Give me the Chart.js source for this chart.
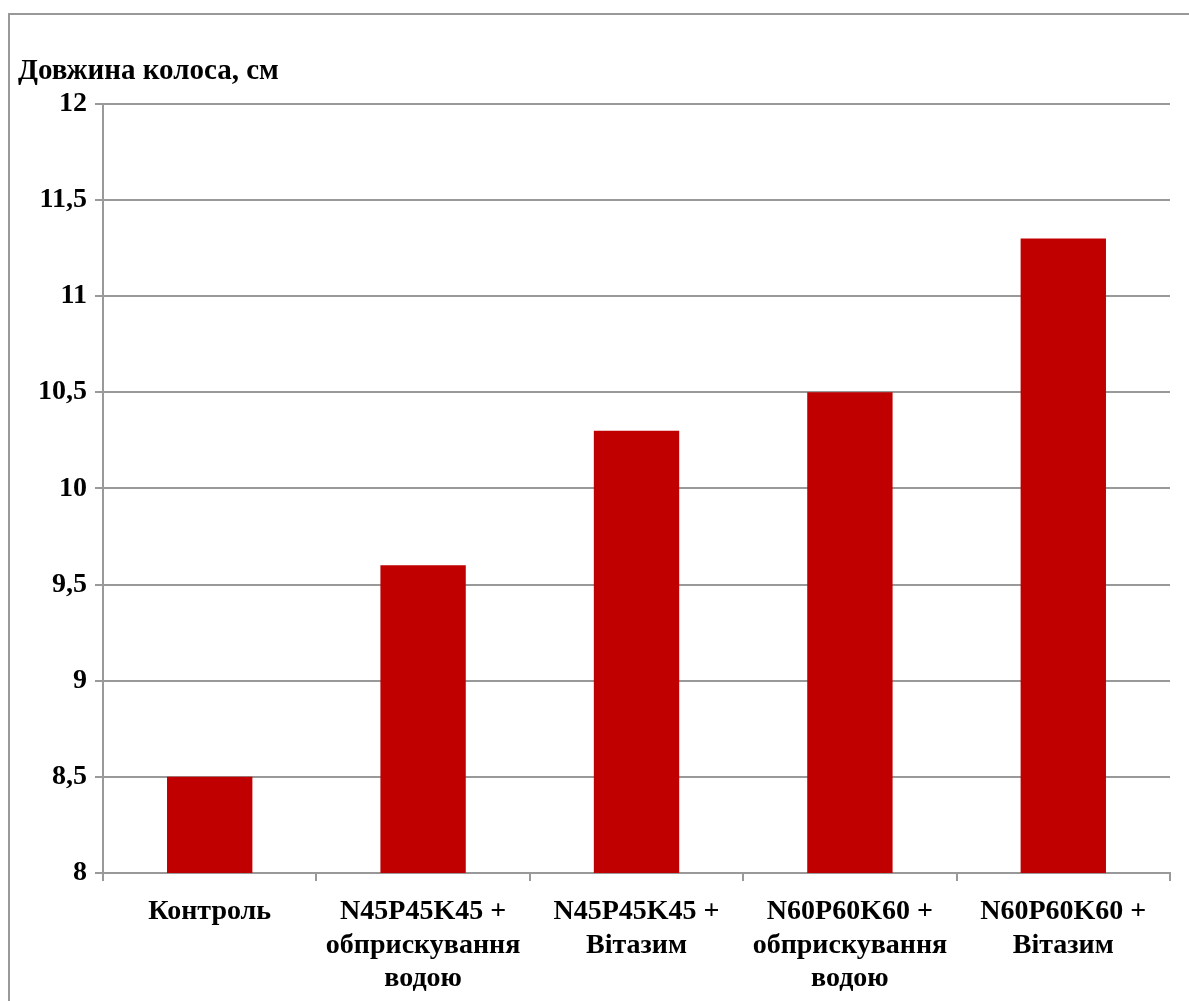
<!DOCTYPE html>
<html lang="uk">
<head>
  <meta charset="UTF-8">
  <title>Довжина колоса</title>
  <script src="https://cdn.jsdelivr.net/npm/chart.js@4.4.1/dist/chart.umd.min.js"></script>
  <style>
    html, body { margin: 0; padding: 0; background: #fff; overflow: hidden; }
    .frame {
      position: absolute; left: 8px; top: 13px;
      width: 1300px; height: 1100px;
      border: 2px solid #999;
    }
    .wrap { position: absolute; left: 0; top: 0; width: 1189px; height: 1001px; }
  </style>
</head>
<body>
  <div class="frame"></div>
  <div class="wrap">
    <canvas id="chart" width="1189" height="1001"></canvas>
  </div>

  <script>
    // data
    const categories = [
      ['Контроль'],
      ['N45P45K45 +', 'обприскування', 'водою'],
      ['N45P45K45 +', 'Вітазим'],
      ['N60P60K60 +', 'обприскування', 'водою'],
      ['N60P60K60 +', 'Вітазим']
    ];
    const spikeLength = [8.5, 9.6, 10.3, 10.5, 11.3];
    const yTickLabels = ['8', '8,5', '9', '9,5', '10', '10,5', '11', '11,5', '12'];

    const family = '"Liberation Serif", "Times New Roman", serif';
    const font = { family: family, size: 28, weight: 'bold' };
    const gridColor = '#999';

    const ctx = document.getElementById('chart').getContext('2d');
    new Chart(ctx, {
      type: 'bar',
      data: {
        labels: categories,
        datasets: [{
          label: 'Довжина колоса, см',
          data: spikeLength,
          backgroundColor: '#C00000',
          barPercentage: 0.4,
          categoryPercentage: 1
        }]
      },
      options: {
        responsive: false,
        animation: false,
        layout: { padding: { left: 18, right: 19, top: 0, bottom: 0 } },
        plugins: {
          legend: { display: false },
          tooltip: { enabled: false },
          title: {
            display: true,
            text: 'Довжина колоса, см',
            align: 'start',
            color: '#000',
            font: { family: family, size: 29, weight: 'bold' },
            padding: { top: 54, bottom: 15 }
          }
        },
        scales: {
          x: {
            grid: {
              display: true,
              drawOnChartArea: false,
              drawTicks: true,
              tickLength: 8,
              color: gridColor,
              lineWidth: 2
            },
            border: { color: gridColor, width: 2 },
            ticks: { color: '#000', font: font, padding: 14, maxRotation: 0, autoSkip: false },
            afterFit: function (scale) { scale.height = 128; }
          },
          y: {
            min: 8,
            max: 12,
            grid: {
              color: gridColor,
              lineWidth: 2,
              tickLength: 8
            },
            border: { color: gridColor, width: 2 },
            ticks: {
              stepSize: 0.5,
              color: '#000',
              font: font,
              padding: 8,
              callback: function (value, index) { return yTickLabels[index]; }
            },
            afterFit: function (scale) { scale.width = 85; }
          }
        }
      }
    });
  </script>
</body>
</html>
